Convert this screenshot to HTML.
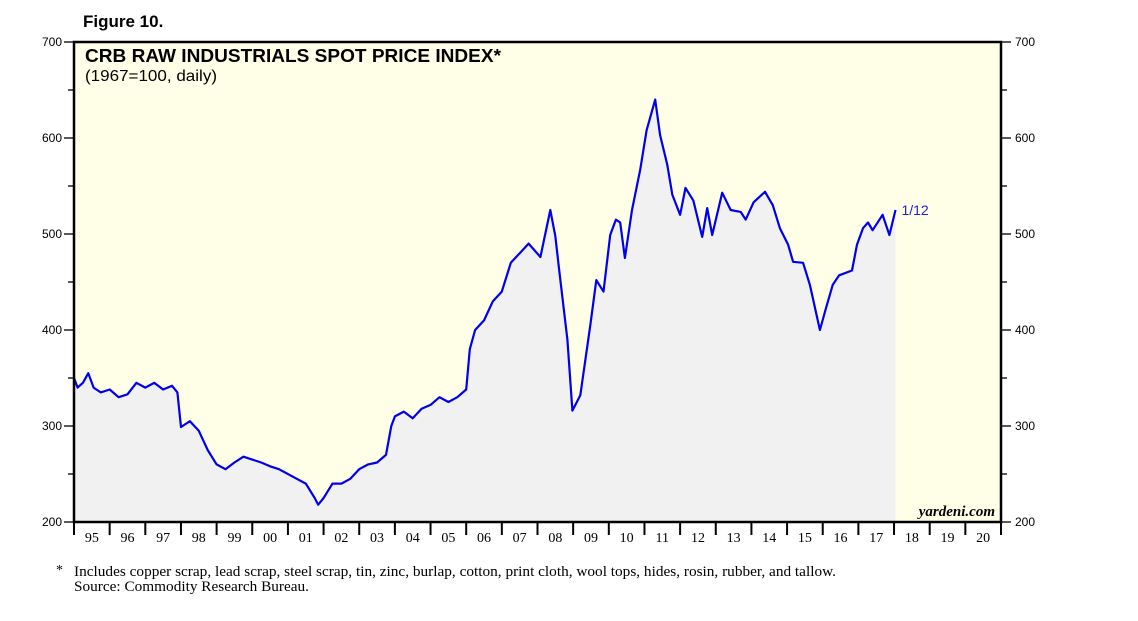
<!DOCTYPE html>
<html><head><meta charset="utf-8"><style>
body{margin:0;background:#fff;width:1138px;height:621px;overflow:hidden}
svg{display:block}
</style></head><body>
<svg id="chart" width="1138" height="621" xmlns="http://www.w3.org/2000/svg">
<text x="83" y="27" font-family="Liberation Sans" font-weight="bold" font-size="17">Figure 10.</text>
<rect x="74" y="42" width="927" height="480" fill="#fffee6"/>
<g id="marks"></g>
<rect x="74" y="42" width="927" height="480" fill="none" stroke="#000" stroke-width="2.5"/>
<text x="85" y="62" font-family="Liberation Sans" font-weight="bold" font-size="18.5" textLength="416" lengthAdjust="spacingAndGlyphs">CRB RAW INDUSTRIALS SPOT PRICE INDEX*</text>
<text x="85" y="81" font-family="Liberation Sans" font-size="16" textLength="132" lengthAdjust="spacingAndGlyphs">(1967=100, daily)</text>
<text x="995" y="516" text-anchor="end" font-family="Liberation Serif" font-style="italic" font-weight="bold" font-size="15">yardeni.com</text>
<g id="axes"></g>
<text x="56" y="574" font-family="Liberation Serif" font-size="14">*</text>
<text x="74" y="576" font-family="Liberation Serif" font-size="14.5" textLength="762" lengthAdjust="spacingAndGlyphs">Includes copper scrap, lead scrap, steel scrap, tin, zinc, burlap, cotton, print cloth, wool tops, hides, rosin, rubber, and tallow.</text>
<text x="74" y="591" font-family="Liberation Serif" font-size="14.5" textLength="235" lengthAdjust="spacingAndGlyphs">Source: Commodity Research Bureau.</text>
</svg>
<script>
const dates=[1995.0,1995.1,1995.25,1995.4,1995.55,1995.75,1996.0,1996.25,1996.5,1996.75,1997.0,1997.25,1997.5,1997.75,1997.9,1998.0,1998.25,1998.5,1998.75,1999.0,1999.25,1999.5,1999.75,2000.0,2000.25,2000.5,2000.75,2001.0,2001.25,2001.5,2001.75,2001.85,2002.0,2002.25,2002.5,2002.75,2003.0,2003.25,2003.5,2003.75,2003.9,2004.0,2004.25,2004.5,2004.75,2005.0,2005.25,2005.5,2005.75,2006.0,2006.1,2006.25,2006.5,2006.75,2007.0,2007.25,2007.5,2007.75,2008.08,2008.36,2008.5,2008.6,2008.84,2008.98,2009.2,2009.48,2009.65,2009.85,2010.04,2010.2,2010.32,2010.45,2010.65,2010.88,2011.06,2011.3,2011.44,2011.64,2011.78,2012.0,2012.15,2012.37,2012.62,2012.76,2012.9,2013.18,2013.42,2013.7,2013.84,2014.06,2014.38,2014.6,2014.8,2015.03,2015.17,2015.45,2015.64,2015.92,2016.1,2016.28,2016.46,2016.82,2016.96,2017.13,2017.27,2017.4,2017.68,2017.87,2018.04];
const values=[350,340,345,355,340,335,338,330,333,345,340,345,338,342,335,299,305,295,275,260,255,262,268,265,262,258,255,250,245,240,225,218,225,240,240,245,255,260,262,270,300,310,315,308,318,322,330,325,330,338,380,400,410,430,440,470,480,490,476,525,498,465,390,316,332,405,452,440,499,515,512,475,525,567,608,640,603,572,541,520,548,535,497,527,499,543,525,523,515,533,544,530,506,489,471,470,447,400,424,447,457,462,489,506,512,504,520,499,525];
const yTicks=[200,300,400,500,600,700];
const yearLabels=["95","96","97","98","99","00","01","02","03","04","05","06","07","08","09","10","11","12","13","14","15","16","17","18","19","20"];
const X0=74,X1=1001,Y0=522,Y1=42,T0=1995,T1=2021,V0=200,V1=700;
const xs=t=>X0+(t-T0)/(T1-T0)*(X1-X0);
const ys=v=>Y0-(v-V0)/(V1-V0)*(Y0-Y1);
const NS="http://www.w3.org/2000/svg";
function mk(tag,attrs,parent){const e=document.createElementNS(NS,tag);for(const k in attrs)e.setAttribute(k,attrs[k]);parent.appendChild(e);return e;}
const marks=document.getElementById('marks'),axes=document.getElementById('axes');
let d=dates.map((t,i)=>(i?'L':'M')+xs(t).toFixed(1)+','+ys(values[i]).toFixed(1)).join('');
const area=mk('path',{d:d+'L'+xs(dates[dates.length-1]).toFixed(1)+','+Y0+'L'+X0+','+Y0+'Z',fill:'#f1f1f1'},marks);


const line=mk('path',{d:d,fill:'none',stroke:'#0000ee','stroke-width':2.2,'stroke-linejoin':'round'},marks);


const lt=mk('text',{x:xs(dates[dates.length-1])+6,y:ys(values[values.length-1])+5,fill:'#2222cc','font-family':'Liberation Sans','font-size':14},marks);
lt.textContent='1/12';


for(let v=V0;v<=V1;v+=50){
  const y=ys(v),major=v%100===0;
  const l1=mk('line',{x1:X0-(major?10:6),x2:X0,y1:y,y2:y,stroke:'#000','stroke-width':1.3},axes);
  
  
  const l2=mk('line',{x1:X1,x2:X1+(major?10:6),y1:y,y2:y,stroke:'#000','stroke-width':1.3},axes);
  
  
}
yTicks.forEach(v=>{
  const a=mk('text',{x:X0-12,y:ys(v)+4,'text-anchor':'end','font-family':'Liberation Sans','font-size':12},axes);
  a.textContent=v;
  
  
  const b=mk('text',{x:X1+14,y:ys(v)+4,'font-family':'Liberation Sans','font-size':12},axes);
  b.textContent=v;
  
  
});
yearLabels.forEach((s,i)=>{
  const x=xs(T0+i);
  const tk=mk('line',{x1:x,x2:x,y1:Y0,y2:Y0+13,stroke:'#000','stroke-width':2},axes);
  
  
  const t=mk('text',{x:xs(T0+i+0.5),y:Y0+20,'text-anchor':'middle','font-family':'Liberation Serif','font-size':14},axes);
  t.textContent=s;
  
  
});
const tk=mk('line',{x1:X1,x2:X1,y1:Y0,y2:Y0+13,stroke:'#000','stroke-width':2},axes);


</script>
</body></html>
